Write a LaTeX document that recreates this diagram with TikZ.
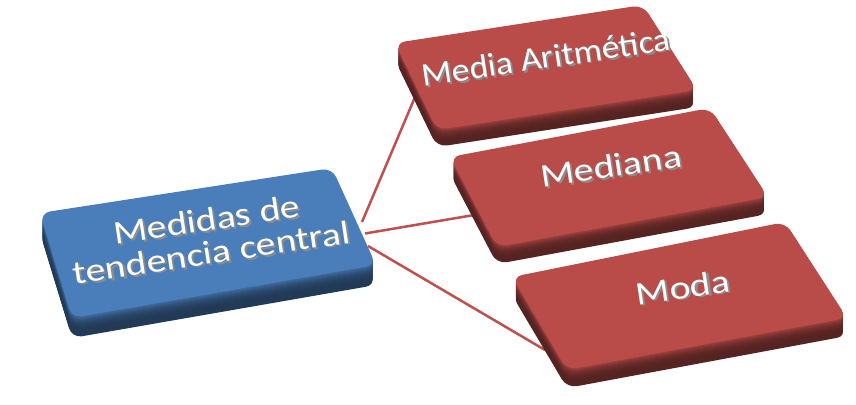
\documentclass[tikz,border=0pt]{standalone}
\usepackage{fontspec}
\setmainfont{Carlito}
\usetikzlibrary{calc}

\definecolor{tendblue}{HTML}{4A7EBB}
\definecolor{tendred}{HTML}{B94C49}
\definecolor{linkred}{HTML}{C0504D}

\tikzset{
  link/.style={draw=linkred, line width=2.5pt},
  boxtext/.style={text=white, font=\fontsize{33}{33}\selectfont, align=center, rotate=8.5, xscale=1.2, inner sep=0pt},
}

% white text with a grey copy just below it
\newcommand{\embossed}[1]{\makebox[0pt][l]{\raisebox{-2pt}{\hspace{1.5pt}\textcolor{black!45}{#1}}}#1}

% slab: top-left, top-right, bottom-right, bottom-left, colour, depth
\newcommand{\slab}[6]{%
  \foreach \d in {#6,...,1}{
    \pgfmathtruncatemacro{\mix}{46+44*(1-\d/#6)^3}
    \fill[#5!\mix!black, rounded corners=10pt]
      ($#1+(0,\d)$) -- ($#2+(0,\d)$) -- ($#3+(0,\d)$) -- ($#4+(0,\d)$) -- cycle;
  }
  \fill[#5, rounded corners=10pt] #1 -- #2 -- #3 -- #4 -- cycle;
}

\begin{document}
\begin{tikzpicture}[x=1pt, y=-1pt]
            \useasboundingbox (0,0) rectangle (856,404);

            \coordinate (src1) at (362,222);
            \coordinate (src2) at (365,233.5);
            \coordinate (src3) at (368,246);
            \coordinate (dst1) at (418,90);
            \coordinate (dst2) at (480,214);
            \coordinate (dst3) at (545,350);

            \draw[link] (src1) -- (dst1);
            \draw[link] (src2) -- (dst2);
            \draw[link] (src3) -- (dst3);

            \slab{(40,213)}{(332,168)}{(376,265)}{(72,318)}{tendblue}{20}
            \slab{(395,43)}{(643,5)}{(697,90)}{(437,130)}{tendred}{17}
            \slab{(450,157)}{(710,108)}{(768,197)}{(497,247)}{tendred}{17}
            \slab{(512,277)}{(785,222)}{(847,318)}{(567,370)}{tendred}{18}

            \node[boxtext] (mtc) at (209,237) {\embossed{Medidas de}\\\embossed{tendencia central}};
            \node[boxtext, xscale=0.9] (media) at (546,58) {\embossed{Media Aritmética}};
            \node[boxtext] (mediana) at (611,167) {\embossed{Mediana}};
            \node[boxtext] (moda) at (683,288) {\embossed{Moda}};
        \end{tikzpicture}
\end{document}
